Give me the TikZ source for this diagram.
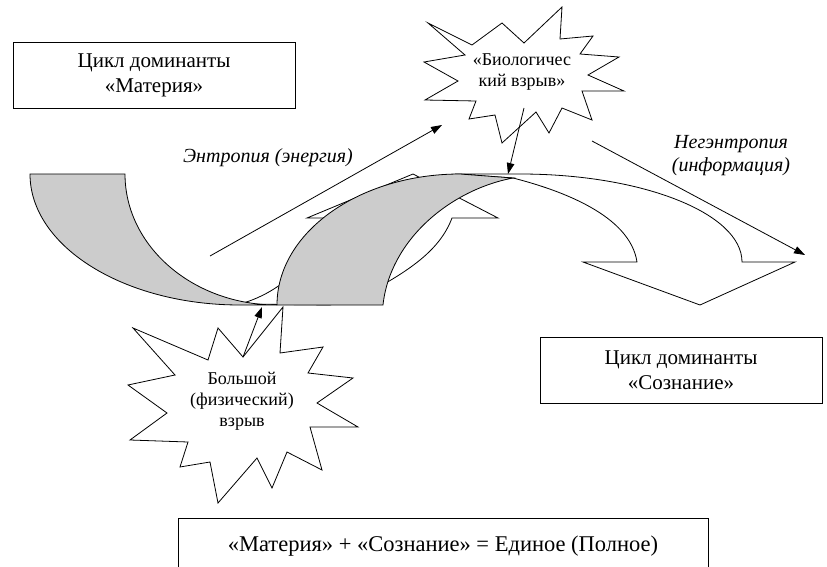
\documentclass[tikz,border=0pt]{standalone}
\usepackage{fontspec}
\setmainfont{Liberation Serif}
\usetikzlibrary{arrows.meta}
\begin{document}
\begin{tikzpicture}[x=1pt,y=-1pt,line width=0.8pt,line join=miter,
  shp/.style={draw=black,fill=white},
  gry/.style={draw=black,fill=black!20},
  box/.style={draw=black,fill=white,line width=0.9pt,align=center,inner sep=0pt,font=\fontsize{21}{25}\selectfont},
  star/.style={draw=black,fill=white,line width=0.8pt},
  sttxt/.style={align=center,font=\fontsize{18}{21}\selectfont},
  lbl/.style={align=center,font=\fontsize{20}{23}\selectfont\itshape},
  arr/.style={-{Triangle[length=11pt,width=7.5pt]},line width=0.8pt}]
\useasboundingbox (0,0) rectangle (827,567);

% white curved up arrow (front part)
\draw[shp] (240,304) .. controls (290,290) and (320,250) .. (323,218) -- (307,218) -- (413,174) -- (498,218) -- (452,218) .. controls (440,250) and (410,270) .. (370,292) -- (330,305) -- cycle;
% white curved down arrow (front part)
\draw[shp] (455,174) -- (520,174) arc[start angle=270,end angle=360,x radius=222,y radius=88] -- (795,262) -- (700,305) -- (583,262) -- (637,262) .. controls (630,215) and (560,190) .. (513,178) -- cycle;
% grey band 1
\draw[gry] (30,174) -- (125,174) arc[start angle=180,end angle=90,x radius=152,y radius=131] -- (240,305) arc[start angle=90,end angle=180,x radius=210,y radius=131] -- cycle;
% grey band 2
\draw[gry] (277,305) arc[start angle=180,end angle=270,x radius=183,y radius=131] -- (513,178) .. controls (450,190) and (390,240) .. (383,305) -- cycle;

% connectors
\coordinate (e1) at (210,256); \coordinate (e2) at (442,125);
\draw[arr] (e1) -- (e2);
\coordinate (n1) at (592,141); \coordinate (n2) at (805,255);
\draw[arr] (n1) -- (n2);

% stars
\draw[star] (283,307) -- (280,353) -- (323,347) -- (308,373) -- (353,378) -- (317,403) -- (358,427) -- (310,427) -- (322,470) -- (287,452) -- (272,488) -- (257,458) -- (218,503) -- (210,462) -- (180,467) -- (188,442) -- (130,440) -- (167,413) -- (128,385) -- (175,375) -- (133,328) -- (208,360) -- (218,328) -- (243,357) -- cycle;
\draw[star] (562,7) -- (560,39) -- (593,36) -- (580,54) -- (619,57) -- (588,75) -- (624,91) -- (582,91) -- (592,120) -- (562,108) -- (549,133) -- (536,112) -- (502,143) -- (495,115) -- (469,119) -- (476,101) -- (425,100) -- (458,81) -- (424,62) -- (465,55) -- (428,23) -- (472,45) -- (502,23) -- (524,43) -- cycle;

\coordinate (b1) at (243,357); \coordinate (b2) at (262,307);
\draw[arr] (b1) -- (b2);
\coordinate (s1) at (524,108); \coordinate (s2) at (508,174);
\draw[arr] (s1) -- (s2);

% texts
\node[sttxt] (bigtxt) at (242,401) {Большой\\(физический)\\взрыв};
\node[sttxt] (biotxt) at (522,72) {«Биологичес\\кий взрыв»};
\node[lbl] (entr) at (268,158) {Энтропия (энергия)};
\node[lbl] (negentr) at (731,156) {Негэнтропия\\(информация)};

% boxes
\node[box,minimum width=282,minimum height=66] (mat) at (154,75) {Цикл доминанты\\«Материя»};
\node[box,minimum width=282,minimum height=66] (soz) at (681,370) {Цикл доминанты\\«Сознание»};
\node[box,minimum width=530,minimum height=56,font=\fontsize{22.5}{26}\selectfont] (sum) at (443,546) {«Материя» + «Сознание» = Единое (Полное)};
\end{tikzpicture}
\end{document}
